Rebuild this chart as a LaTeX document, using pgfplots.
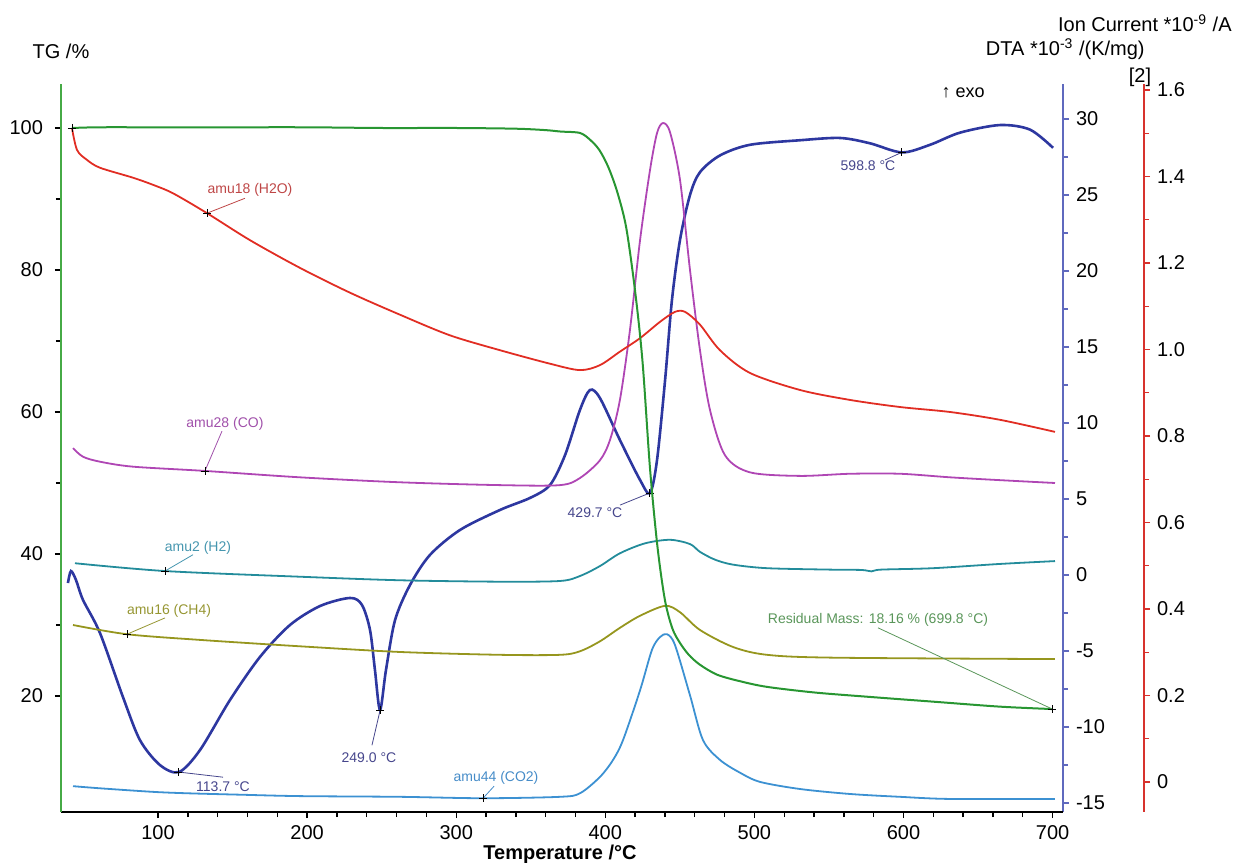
\documentclass[border=0pt]{standalone}
\usepackage{fontspec}
\setmainfont{Liberation Sans}
\usepackage{pgfplots}
\pgfplotsset{compat=1.18}

\definecolor{tggreen}{RGB}{40,150,50}
\definecolor{tgaxis}{RGB}{70,170,70}
\definecolor{dtablue}{RGB}{45,55,160}
\definecolor{dtaaxis}{RGB}{95,105,190}
\definecolor{h2ored}{RGB}{225,45,35}
\definecolor{ionaxis}{RGB}{215,50,45}
\definecolor{comag}{RGB}{175,70,180}
\definecolor{h2teal}{RGB}{35,140,155}
\definecolor{ch4ol}{RGB}{150,150,30}
\definecolor{co2blue}{RGB}{60,145,210}
\definecolor{lbred}{RGB}{190,70,70}
\definecolor{lbmag}{RGB}{160,80,170}
\definecolor{lbteal}{RGB}{70,150,175}
\definecolor{lbol}{RGB}{150,150,50}
\definecolor{lbco2}{RGB}{70,140,200}
\definecolor{lbdta}{RGB}{70,70,140}
\definecolor{lbgreen}{RGB}{90,150,90}

\newcommand{\ann}{\fontsize{7}{8}\selectfont}

\pgfplotsset{
  thermo/.style={
    anchor=south west, at={(30.5pt,25.5pt)},
    scale only axis, height=364pt,
    xmin=34.94, xmax=706.98,
    clip=false,
    tick align=outside,
    major tick length=3pt, minor tick length=2.5pt,
    tick label style={font=\fontsize{10}{12}\selectfont},
    /pgf/number format/assume math mode=true,
    axis line style={-},
  }
}

\begin{document}
\begin{tikzpicture}
\path[use as bounding box] (0,0) rectangle (616.5pt,431.5pt);

% ion current scale (red), outermost
\begin{axis}[thermo, width=541.5pt,
  xmin=0, xmax=1,
  ymin=-0.0694, ymax=1.6139,
  axis x line=none, axis y line*=right,
  y axis line style={ionaxis, line width=0.9pt},
  y tick style={ionaxis, line width=0.7pt},
  ytick={0,0.2,0.4,0.6,0.8,1.0,1.2,1.4,1.6},
  yticklabels={0,0.2,0.4,0.6,0.8,1.0,1.2,1.4,1.6},
  minor ytick={0.1,0.3,0.5,0.7,0.9,1.1,1.3,1.5},
]
\addplot[draw=none] coordinates {(0.5,0.5)};
\end{axis}

% DTA axis (blue)
\begin{axis}[thermo, width=501pt,
  ymin=-15.59, ymax=32.30,
  axis x line=none, axis y line*=right,
  y axis line style={dtaaxis, line width=0.9pt},
  y tick style={dtaaxis, line width=0.7pt},
  ytick={-15,-10,...,30}, minor y tick num=1,
]
\addplot[dtablue, line width=1.3pt, smooth] coordinates {
 (39.6,-0.53) (41.6,0.26) (45.0,-0.33) (49.7,-1.64) (61.1,-3.82) (76.5,-8.03)
 (87.9,-10.86) (101.3,-12.5) (114.1,-12.96) (128.2,-11.51) (148.3,-8.22)
 (168.4,-5.39) (188.5,-3.29) (208.7,-2.04) (228.8,-1.51) (236.8,-1.97)
 (242.2,-3.62) (245.5,-6.25) (248.9,-8.88) (252.9,-6.25) (259.0,-2.96)
 (269.0,-0.66) (282.4,1.32) (302.5,2.96) (329.4,4.28) (349.5,5.07)
 (362.9,5.92) (373.0,7.89) (383.0,10.86) (389.7,12.17) (396.4,11.64)
 (409.8,8.88) (423.3,6.25) (430.0,5.39) (434.7,7.57) (440.1,12.83)
 (444.7,18.09) (450.1,22.04) (456.8,25.0) (463.5,26.5) (476.9,27.6)
 (497.0,28.3) (530.6,28.6) (557.4,28.75) (577.5,28.4) (599.0,27.8)
 (617.8,28.3) (637.9,29.1) (664.7,29.6) (684.8,29.3) (700.3,28.1)};
\addplot[only marks, mark=+, mark size=2pt, black, thin] coordinates {
 (113.7,-12.96) (249.0,-8.88) (429.7,5.39) (598.8,27.8)};
\draw[lbdta, thin] (axis cs:113.7,-12.96) -- (axis cs:143.6,-13.3);
\node[lbdta, font=\ann] at (axis cs:143.6,-13.95) {113.7 °C};
\draw[lbdta, thin] (axis cs:249.0,-8.88) -- (axis cs:243.5,-11.2);
\node[lbdta, font=\ann] at (axis cs:241.5,-12.0) {249.0 °C};
\draw[lbdta, thin] (axis cs:429.7,5.39) -- (axis cs:409.9,4.6);
\node[lbdta, font=\ann] at (axis cs:393.1,4.1) {429.7 °C};
\draw[lbdta, thin] (axis cs:598.8,27.8) -- (axis cs:587.6,27.3);
\node[lbdta, font=\ann] at (axis cs:576.2,26.9) {598.8 °C};
\end{axis}

% main TG axis with MS curves
\begin{axis}[thermo, width=501pt,
  ymin=3.662, ymax=106.197,
  axis x line*=bottom, axis y line*=left,
  x axis line style={black, line width=0.9pt},
  y axis line style={tgaxis, line width=0.9pt},
  tick style={black, line width=0.7pt},
  xtick={100,200,...,700}, minor x tick num=4,
  ytick={20,40,...,100}, minor y tick num=1,
  yticklabel style={xshift=-2.5pt},
]
% amu44 (CO2)
\addplot[co2blue, line width=0.9pt, smooth] coordinates {
 (43.0,7.3) (61.1,7.0) (96.6,6.5) (119.4,6.3) (155.0,6.1) (195.2,5.9)
 (262.3,5.8) (318.0,5.6) (369.6,5.8) (383.0,6.3) (396.4,8.6) (405.2,11.0)
 (411.9,13.8) (423.3,20.8) (431.3,26.5) (436.7,28.3) (441.4,28.7)
 (446.7,27.2) (456.8,20.1) (465.5,13.8) (476.9,11.0) (490.3,9.2)
 (503.8,7.9) (530.6,6.9) (564.1,6.2) (597.7,5.8) (631.2,5.5) (701.6,5.5)};
% amu16 (CH4)
\addplot[ch4ol, line width=0.9pt, smooth] coordinates {
 (43.0,30.0) (79.2,28.7) (128.2,27.9) (195.2,27.0) (262.3,26.2) (329.4,25.8)
 (369.6,25.8) (383.0,26.3) (396.4,27.7) (409.8,29.6) (423.3,31.3)
 (440.1,32.7) (450.1,31.8) (463.5,29.3) (485.7,26.9) (508.5,25.8)
 (552.7,25.4) (701.6,25.2)};
% amu2 (H2)
\addplot[h2teal, line width=0.9pt, smooth] coordinates {
 (44.3,38.7) (104.7,37.6) (195.2,36.8) (262.3,36.3) (329.4,36.1)
 (369.6,36.2) (383.0,36.9) (396.4,38.3) (409.8,40.1) (426.6,41.5)
 (443.4,42.0) (456.8,41.4) (463.5,40.3) (473.6,39.2) (485.7,38.5)
 (508.5,38.0) (550.7,37.8) (572,37.75) (578.5,37.55) (585,37.8)
 (619.8,38.0) (664.7,38.6) (701.6,39.0)};
% amu28 (CO)
\addplot[comag, line width=0.9pt, smooth] coordinates {
 (43.0,54.9) (49.7,53.7) (61.1,53.0) (83.2,52.3) (131.5,51.7) (195.2,50.8)
 (262.3,50.1) (329.4,49.7) (369.6,49.7) (383.0,50.7) (396.4,53.2)
 (403.2,56.1) (409.8,61.7) (416.5,71.5) (423.3,84.2) (430.0,94.1)
 (434.7,99.3) (438.7,100.7) (443.4,99.4) (450.1,92.7) (456.8,80.0)
 (463.5,68.7) (470.2,60.3) (480.3,53.9) (497.0,51.5) (530.6,51.0)
 (564.1,51.3) (597.7,51.3) (631.2,50.8) (664.7,50.4) (701.6,50.0)};
% amu18 (H2O)
\addplot[h2ored, line width=0.9pt, smooth] coordinates {
 (42.3,100.0) (45.7,96.9) (52.4,95.5) (61.1,94.4) (83.2,93.0) (96.6,92.0)
 (110.1,90.8) (132.9,88.0) (161.7,84.2) (195.2,80.3) (228.8,76.8)
 (262.3,73.7) (295.8,70.8) (329.4,68.7) (362.9,66.8) (383.0,65.9)
 (396.4,66.6) (409.8,68.5) (423.3,70.4) (436.7,72.7) (446.7,74.1)
 (453.5,74.1) (463.5,72.3) (476.9,68.7) (497.0,65.5) (530.6,63.1)
 (564.1,61.7) (597.7,60.7) (631.2,60.0) (664.7,58.9) (701.6,57.2)};
% TG
\addplot[tggreen, line width=1pt, smooth] coordinates {
 (42.3,100.0) (60,100.1) (100,100.1) (150,100.1) (200,100.1) (250,100.0)
 (300,100.0) (340,99.9) (360,99.7) (370,99.5) (383,99.3) (390,98.3)
 (396,96.9) (402,94.5) (408,91.0) (414,86.0) (420,77.0) (425,67.0)
 (430,52.0) (435,41.0) (440,33.5) (445,29.5) (450,27.5) (456,25.8)
 (463.5,24.4) (475,23.0) (490,22.1) (508,21.3) (540,20.5) (575.5,19.9)
 (620,19.2) (664.7,18.5) (699.8,18.16)};
\addplot[only marks, mark=+, mark size=2pt, black, thin] coordinates {
 (42.3,100.0) (132.9,88.0) (131.5,51.7) (104.7,37.6) (79.2,28.7)
 (318.0,5.6) (699.8,18.16)};
\draw[lbred, thin] (axis cs:132.9,88.0) -- (axis cs:158.3,90.1);
\node[lbred, font=\ann] at (axis cs:161.7,91.3) {amu18 (H2O)};
\draw[lbmag, thin] (axis cs:131.5,51.7) -- (axis cs:142.9,57.3);
\node[lbmag, font=\ann] at (axis cs:144.9,58.3) {amu28 (CO)};
\draw[lbteal, thin] (axis cs:104.7,37.6) -- (axis cs:123.5,39.9);
\node[lbteal, font=\ann] at (axis cs:126.8,40.8) {amu2 (H2)};
\draw[lbol, thin] (axis cs:79.2,28.7) -- (axis cs:104.7,31.0);
\node[lbol, font=\ann] at (axis cs:107.4,32.0) {amu16 (CH4)};
\draw[lbco2, thin] (axis cs:318.0,5.6) -- (axis cs:325.4,7.3);
\node[lbco2, font=\ann] at (axis cs:326.7,8.5) {amu44 (CO2)};
\draw[lbgreen, thin] (axis cs:582.9,29.6) -- (axis cs:699.8,18.16);
\node[lbgreen, font=\ann] at (axis cs:582.9,30.7) {Residual Mass: 18.16 \% (699.8 °C)};
\node[black, font=\fontsize{9}{10}\selectfont] at (axis cs:640,104.9) {↑ exo};
\end{axis}

% axis titles
\node[font=\fontsize{10}{12}\selectfont] at (30.5pt,406pt) {TG /\%};
\node[anchor=east, inner sep=0pt, font=\fontsize{10}{12}\selectfont] at (616pt,420pt) {Ion Current *10\textsuperscript{-9} /A};
\node[anchor=east, inner sep=0pt, font=\fontsize{10}{12}\selectfont] at (572.5pt,407pt) {DTA *10\textsuperscript{-3} /(K/mg)};
\node[inner sep=0pt, font=\fontsize{10}{12}\selectfont] at (570pt,393pt) {[2]};
\node[font=\bfseries\fontsize{10}{12}\selectfont] at (280pt,4.5pt) {Temperature /°C};
\end{tikzpicture}
\end{document}
